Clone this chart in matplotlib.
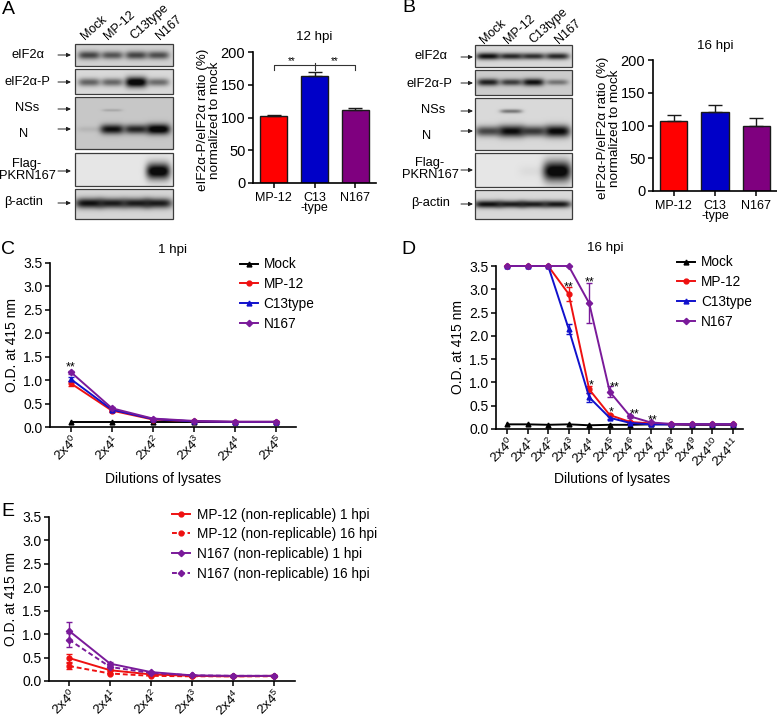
import numpy as np
import matplotlib
matplotlib.use("Agg")
import matplotlib.pyplot as plt
from matplotlib.container import ErrorbarContainer
from matplotlib.patches import Rectangle

plt.rcParams.update({
    'font.family': ['Liberation Sans', 'DejaVu Sans'],
    'font.size': 9.8,
    'mathtext.fontset': 'custom',
    'mathtext.rm': 'Liberation Sans',
    'mathtext.it': 'Liberation Sans:italic',
    'mathtext.default': 'regular',
    'axes.linewidth': 1.0,
})

W, H = 777, 717

# ---------- data ----------
bar_labels = ['MP-12', 'C13\n-type', 'N167']
bar_colors = ['#ff0000', '#0000c8', '#7f007f']
a_vals = [102, 164, 111]
a_errs = [1.5, 6, 3.5]
b_vals = [107, 121, 100]
b_errs = [9, 11, 12]

c_ticks = ['2x4$^{%d}$' % i for i in range(6)]
d_ticks = ['2x4$^{%d}$' % i for i in range(12)]

c_mock = [0.10, 0.10, 0.10, 0.10, 0.10, 0.10]
c_mp12 = [0.93, 0.35, 0.16, 0.12, 0.11, 0.11]
c_c13 = [1.02, 0.37, 0.17, 0.12, 0.11, 0.11]
c_n167 = [1.17, 0.40, 0.18, 0.13, 0.11, 0.11]
c_mp12_err = [0.06, 0.02, 0.01, 0.01, 0.01, 0.01]
c_c13_err = [0.04, 0.02, 0.01, 0.01, 0.01, 0.01]
c_n167_err = [0.03, 0.02, 0.01, 0.01, 0.01, 0.01]

d_mock = [0.10, 0.10, 0.09, 0.10, 0.08, 0.09, 0.09, 0.10, 0.10, 0.09, 0.09, 0.09]
d_mp12 = [3.5, 3.5, 3.5, 2.90, 0.85, 0.30, 0.15, 0.12, 0.10, 0.10, 0.10, 0.10]
d_c13 = [3.5, 3.5, 3.5, 2.15, 0.68, 0.24, 0.13, 0.10, 0.10, 0.10, 0.10, 0.10]
d_n167 = [3.5, 3.5, 3.5, 3.5, 2.70, 0.80, 0.27, 0.14, 0.11, 0.10, 0.10, 0.10]
d_mp12_err = [0, 0, 0, 0.15, 0.08, 0.02, 0.01, 0.01, 0.01, 0.01, 0.01, 0.01]
d_c13_err = [0, 0, 0, 0.11, 0.10, 0.03, 0.01, 0.01, 0.01, 0.01, 0.01, 0.01]
d_n167_err = [0, 0, 0, 0, 0.43, 0.12, 0.03, 0.01, 0.01, 0.01, 0.01, 0.01]

e_mp1 = [0.49, 0.23, 0.14, 0.11, 0.10, 0.11]
e_mp16 = [0.32, 0.16, 0.11, 0.10, 0.10, 0.10]
e_n1 = [1.07, 0.37, 0.19, 0.12, 0.11, 0.11]
e_n16 = [0.88, 0.30, 0.17, 0.12, 0.11, 0.11]
e_mp1_err = [0.08, 0.02, 0.01, 0.01, 0.01, 0.01]
e_mp16_err = [0.06, 0.02, 0.01, 0.01, 0.01, 0.01]
e_n1_err = [0.19, 0.03, 0.01, 0.01, 0.01, 0.01]
e_n16_err = [0.15, 0.03, 0.01, 0.01, 0.01, 0.01]

lane_labels = ['Mock', 'MP-12', 'C13type', 'N167']
# band darkness per lane
a_eif = [0.62, 0.55, 0.62, 0.58]
a_eifp = [0.50, 0.48, 1.00, 0.46]
a_nss = [0.0, 0.15, 0.0, 0.0]
a_n = [0.08, 0.85, 0.75, 1.00]
a_flag = [0.0, 0.0, 0.0, 1.00]
a_actin = [0.85, 0.80, 0.80, 0.80]
b_eif = [0.85, 0.75, 0.72, 0.75]
b_eifp = [0.78, 0.65, 0.85, 0.40]
b_nss = [0.0, 0.42, 0.0, 0.0]
b_n = [0.62, 0.88, 0.68, 0.90]
b_flag = [0.0, 0.0, 0.04, 1.00]
b_actin = [0.85, 0.80, 0.80, 0.82]


# ---------- helpers ----------
def axes_px(x0, y_top, x1, y_bot):
    return fig.add_axes([x0 / W, 1 - y_bot / H, (x1 - x0) / W, (y_bot - y_top) / H])


def style(ax):
    ax.spines['top'].set_visible(False)
    ax.spines['right'].set_visible(False)
    for s in ('left', 'bottom'):
        ax.spines[s].set_linewidth(1.2)
    ax.tick_params(width=1.1, length=3.5, pad=2, labelsize=10)
    ax.patch.set_alpha(0)


def bar_panel(ax, vals, errs, ylabel_pad):
    style(ax)
    x = np.arange(3)
    ax.bar(x, vals, width=0.66, color=bar_colors, edgecolor='#1a1a1a', linewidth=1.0,
           yerr=[[0, 0, 0], errs], error_kw=dict(ecolor='#1a1a1a', elinewidth=1.0, capsize=5, capthick=1.0))
    ax.set_xlim(-0.5, 2.5)
    ax.set_ylim(0, 200)
    ax.set_yticks([0, 50, 100, 150, 200])
    ax.tick_params(axis='y', labelsize=10.5)
    ax.set_xticks(x)
    ax.set_xticklabels(bar_labels, linespacing=0.8, fontsize=9)
    ax.tick_params(axis='x', pad=3)
    ax.set_ylabel('eIF2α-P/eIF2α ratio (%)\nnormalized to mock', labelpad=ylabel_pad, linespacing=1.0,
                  fontsize=9.7, y=0.48)


def line_panel(ax, ticks, series, xlim, xlabel_at=None):
    style(ax)
    x = np.arange(len(ticks))
    for y, err, col, m, ms, ls, lab in series:
        ax.errorbar(x, y, yerr=err, color=col, marker=m, ms=ms, lw=1.4, ls=ls, label=lab,
                    elinewidth=1.0, capsize=2.5, capthick=1.0, clip_on=False)
    ax.set_xlim(*xlim)
    ax.set_ylim(0, 3.5)
    ax.set_yticks(np.arange(0, 3.6, 0.5))
    ax.set_ylabel('O.D. at 415 nm', labelpad=3, fontsize=10)
    ax.set_xticks(x)
    ax.set_xticklabels(ticks, rotation=45, ha='right', rotation_mode='anchor', fontsize=9.6)
    ax.tick_params(axis='x', pad=1)
    if xlabel_at:
        ax.set_xlabel('Dilutions of lysates', fontsize=10)
        ax.xaxis.set_label_coords(*xlabel_at)


def band_image(x0, x1, y0, y1, lanes, rows, bg):
    """Film-like strip: grey background darkened by soft bands."""
    xs = np.arange(x0, x1, 0.5)
    ys = np.arange(y0, y1, 0.5)
    X, Y = np.meshgrid(xs, ys)
    img = np.ones_like(X)
    for vals, yc, sy, hw in rows:
        for lane, v in zip(lanes, vals):
            sig = sy * (0.65 + 0.6 * v)
            p = np.exp(-((X - lane) / hw) ** 4) * np.exp(-((Y - yc) / sig) ** 2)
            img *= 1 - np.clip(v * 1.1 * p, 0, 0.95)
    return img * bg


def blot(ov, x0, x1, strips, lanes):
    for y0, y1, bg, rows in strips:
        img = band_image(x0, x1, y0, y1, lanes, rows, bg)
        ov.imshow(img, extent=(x0, x1, y1, y0), cmap='gray', vmin=0, vmax=1, aspect='auto',
                  interpolation='bilinear', zorder=1)
        ov.add_patch(Rectangle((x0, y0), x1 - x0, y1 - y0, fill=False, ec='#3c3c3c', lw=0.9, zorder=2))


def arrow(ov, x0, x1, y):
    ov.annotate('', xy=(x1, y), xytext=(x0, y),
                arrowprops=dict(arrowstyle='-|>,head_width=0.12,head_length=0.25', color='#222222', lw=0.7, shrinkA=0, shrinkB=0))


fig = plt.figure(figsize=(W / 100, H / 100), dpi=100, facecolor='white')

# ---------- overlay in pixel coordinates (blots, panel letters) ----------
ov = fig.add_axes([0, 0, 1, 1])
ov.axis('off')

a_lanes = [89, 112, 136, 158]
b_lanes = [488, 511, 533, 557]
blot(ov, 75, 173, [
    (44, 66, 0.82, [(a_eif, 55, 4.0, 11)]),
    (69, 94, 0.85, [(a_eifp, 82, 4.2, 11)]),
    (97, 149, 0.78, [(a_nss, 110, 1.8, 10), (a_n, 129, 4.2, 12)]),
    (153, 186, 0.90, [(a_flag, 171, 6.5, 12)]),
    (189, 219, 0.84, [(a_actin, 203, 4.4, 14)]),
], a_lanes)
blot(ov, 475, 572, [
    (45, 67, 0.85, [(b_eif, 56, 3.0, 12)]),
    (70, 95, 0.80, [(b_eifp, 82, 3.2, 11)]),
    (98, 150, 0.85, [(b_nss, 111, 2.2, 11), (b_n, 131, 5.0, 13)]),
    (153, 187, 0.90, [(b_flag, 171, 8.0, 14)]),
    (190, 219, 0.85, [(b_actin, 204, 3.2, 14)]),
], b_lanes)

for xl, lab in zip([85, 108, 134, 160], lane_labels):
    ov.text(xl, 40, lab, rotation=42, ha='left', va='baseline', rotation_mode='anchor', fontsize=9)
for xl, lab in zip([484, 508, 533, 559], lane_labels):
    ov.text(xl, 44, lab, rotation=42, ha='left', va='baseline', rotation_mode='anchor', fontsize=9)

a_side = [('eIF2α', 28, 55), ('eIF2α-P', 27, 82), ('NSs', 27, 108),
          ('N', 24, 134), ('Flag-\nPKRN167', 27, 170), ('β-actin', 24, 202)]
for t, tx, ty in a_side:
    ov.text(tx, ty, t, ha='center', va='center', fontsize=9.3, linespacing=1.0)
for y in [55, 82, 109, 129, 171, 203]:
    arrow(ov, 58, 71, y)

b_side = [('eIF2α', 431, 56), ('eIF2α-P', 429, 84), ('NSs', 433, 110), ('N', 427, 136),
          ('Flag-\nPKRN167', 430, 169), ('β-actin', 431, 203)]
for t, tx, ty in b_side:
    ov.text(tx, ty, t, ha='center', va='center', fontsize=9.3, linespacing=1.0)
for y in [57, 83, 111, 131, 170, 204]:
    arrow(ov, 461, 473, y)

for t, x, y in [('A', 8, 9), ('B', 409, 8), ('C', 8, 250), ('D', 408, 250), ('E', 8, 511)]:
    ov.text(x, y, t, ha='center', va='center', fontsize=14)

ov.text(314, 37, '12 hpi', ha='center', va='center', fontsize=9.6)
ov.text(715, 46, '16 hpi', ha='center', va='center', fontsize=9.6)
ov.text(173, 250, '1 hpi', ha='center', va='center', fontsize=9.6)
ov.text(605, 248, '16 hpi', ha='center', va='center', fontsize=9.6)
ov.set_xlim(0, W)
ov.set_ylim(H, 0)

# ---------- bar panels ----------
axA = axes_px(253, 52, 376, 183)
bar_panel(axA, a_vals, a_errs, 0)
axA.plot([0, 0, 2, 2], [172, 180, 180, 172], color='#333333', lw=0.8)
axA.plot([1, 1], [172, 183], color='#333333', lw=0.8)
axA.text(0.45, 186, '**', ha='center', va='center', fontsize=7)
axA.text(1.5, 186, '**', ha='center', va='center', fontsize=7)

axB = axes_px(653, 60, 777, 191)
bar_panel(axB, b_vals, b_errs, 0)

# ---------- line panels ----------
axC = axes_px(50, 263, 296, 427)
line_panel(axC, c_ticks, [
    (c_mock, None, 'black', '^', 3.5, '-', 'Mock'),
    (c_mp12, c_mp12_err, '#ee1111', 'o', 3.5, '-', 'MP-12'),
    (c_c13, c_c13_err, '#1111cc', '^', 3.5, '-', 'C13type'),
    (c_n167, c_n167_err, '#7a1a9a', 'D', 3.2, '-', 'N167'),
], (-0.51, 5.49), xlabel_at=(0.459, -0.274))
axC.text(0, 1.28, '**', ha='center', va='center', fontsize=9)

axD = axes_px(496, 266, 743, 429)
line_panel(axD, d_ticks, [
    (d_mock, None, 'black', '^', 3.5, '-', 'Mock'),
    (d_mp12, d_mp12_err, '#ee1111', 'o', 3.5, '-', 'MP-12'),
    (d_c13, d_c13_err, '#1111cc', '^', 3.5, '-', 'C13type'),
    (d_n167, d_n167_err, '#7a1a9a', 'D', 3.2, '-', 'N167'),
], (-0.54, 11.49), xlabel_at=(0.47, -0.264))
for xs, ys, t in [(3, 3.05, '**'), (4, 3.15, '**'), (4.1, 0.94, '*'), (5.25, 0.90, '**'),
                  (5.05, 0.36, '*'), (6.2, 0.32, '**'), (7.1, 0.19, '**')]:
    axD.text(xs, ys, t, ha='center', va='center', fontsize=9)

axE = axes_px(49, 517, 295, 681)
line_panel(axE, c_ticks, [
    (e_mp1, e_mp1_err, '#ee1111', 'o', 3.5, '-', 'MP-12 (non-replicable) 1 hpi'),
    (e_mp16, e_mp16_err, '#ee1111', 'o', 3.5, (0, (2.5, 1.5)), 'MP-12 (non-replicable) 16 hpi'),
    (e_n1, e_n1_err, '#7a1a9a', 'D', 3.2, '-', 'N167 (non-replicable) 1 hpi'),
    (e_n16, e_n16_err, '#7a1a9a', 'D', 3.2, (0, (2.5, 1.5)), 'N167 (non-replicable) 16 hpi'),
], (-0.49, 5.51))


# ---------- legends ----------
def legend_px(ax, x_line, y_first, gap):
    h, l = ax.get_legend_handles_labels()
    h = [c[0] if isinstance(c, ErrorbarContainer) else c for c in h]
    ax.legend(h, l, loc='upper left', bbox_to_anchor=(x_line / W, 1 - y_first / H), bbox_transform=fig.transFigure,
              frameon=False, fontsize=9.8, borderpad=0, borderaxespad=0, handlelength=1.35, handletextpad=gap,
              labelspacing=0.42)


legend_px(axC, 240, 257.5, 0.37)
legend_px(axD, 677, 255.5, 0.42)
legend_px(axE, 172, 507.5, 0.5)

fig.savefig('out.png', dpi=100)
